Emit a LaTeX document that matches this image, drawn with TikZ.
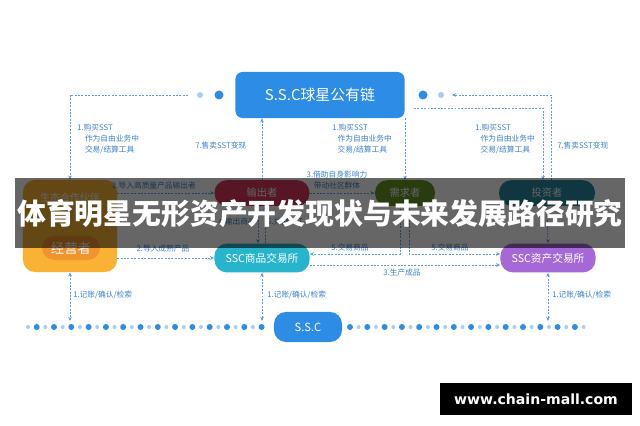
\documentclass[tikz,border=0pt]{standalone}
\usepackage{fontspec}
\setmainfont{Noto Sans CJK SC}
\newfontfamily\wmfont{DejaVu Sans}
\usepackage{tikz}
\usetikzlibrary{arrows.meta,calc}
\definecolor{sscblue}{RGB}{45,140,230}
\definecolor{dotpale}{RGB}{172,205,238}
\definecolor{lineblue}{RGB}{95,158,218}
\definecolor{lblblue}{RGB}{60,130,205}
\definecolor{partneryel}{RGB}{249,178,51}
\definecolor{opergold}{RGB}{240,148,45}
\definecolor{outred}{RGB}{215,55,95}
\definecolor{demgreen}{RGB}{100,150,40}
\definecolor{invteal}{RGB}{40,135,158}
\definecolor{shopteal}{RGB}{40,180,205}
\definecolor{assetpurp}{RGB}{165,105,215}

\begin{document}
\begin{tikzpicture}[x=0.025cm,y=-0.025cm,>={Stealth[length=3pt,width=2.6pt]},
  flow/.style={lineblue,line width=0.5pt,dash pattern=on 1.4pt off 1pt},
  pill/.style={text=white,inner sep=0pt,rounded corners=0.31cm,minimum height=0.64cm,font=\fontsize{7.3}{8}\selectfont},
  lbl/.style={lblblue,inner sep=0pt,anchor=west,align=left,font=\fontsize{5.5}{7.8}\selectfont}]
\fill[white] (0,0) rectangle (640,426);
% chain on top, actors in the middle, ledger at the bottom
\node[pill,fill=sscblue,minimum width=4.225cm,minimum height=1.15cm,rounded corners=5pt,font=\fontsize{10.6}{12}\selectfont] (chain) at (320,95) {S.S.C球星公有链};
\fill[dotpale] (200,95) circle (3);
\fill[sscblue] (219,95) circle (4.5);
\fill[sscblue] (423,95) circle (4.5);
\fill[dotpale] (441,95) circle (3);
\node[fill=partneryel,rounded corners=0.3cm,minimum width=2.35cm,minimum height=2.3cm,inner sep=0pt] (partner) at (70,226) {};
\node[text=white,font=\fontsize{7.1}{8}\selectfont] (partnertxt) at (70,198) {生态合作伙伴};
\node[pill,fill=opergold,minimum width=1.45cm,minimum height=0.6cm,font=\fontsize{9.5}{10}\selectfont] (oper) at (71,248) {经营者};
\node[pill,fill=outred,minimum width=2.375cm] (out) at (262,193) {输出者};
\node[pill,fill=demgreen,minimum width=1.5cm] (demand) at (405,193) {需求者};
\node[pill,fill=invteal,minimum width=2.4cm] (inv) at (547,193) {投资者};
\node[pill,fill=shopteal,minimum width=2.375cm,minimum height=0.72cm,font=\fontsize{7.6}{8}\selectfont] (shop) at (262,258) {SSC商品交易所};
\node[pill,fill=assetpurp,minimum width=2.375cm,minimum height=0.72cm,font=\fontsize{7.6}{8}\selectfont] (asset) at (548,258) {SSC资产交易所};
\node[pill,fill=sscblue,minimum width=1.7cm,minimum height=0.75cm,rounded corners=0.3cm,font=\fontsize{8}{9}\selectfont] (ssc) at (308,327) {S.S.C};
\foreach \i in {0,...,13} {
  \fill[dotpale] (28+17.3*\i,327) circle (2);
  \fill[sscblue] (36.7+17.3*\i,327) circle (3);
  \fill[sscblue] (350+17.3*\i,327) circle (3);
  \fill[dotpale] (358.7+17.3*\i,327) circle (2);
}
% top links
\coordinate (tl) at (188,95);
\coordinate (rb) at (414,108);
\coordinate (rt) at (452,95);
\coordinate (invA) at (543,180);
\coordinate (invB) at (551,180);
\draw[flow,->] (tl) -| (partner.north);
\draw[flow,->] (out.north) -- (out.north |- chain.south);
\draw[flow,->] (demand.north |- chain.south) -- (demand.north);
\draw[flow,->] (rb) -| (invA);
\draw[flow,->] (invB) |- (rt);
\node[lbl] (buyL) at (77,139) {1.购买SST\\\hspace*{1em}作为自由业务中\\\hspace*{1em}交易/结算工具};
\node[lbl] (sellL) at (195,146) {7.售卖SST变现};
\node[lbl] (buyM) at (332,139) {1.购买SST\\\hspace*{0.7em}作为自由业务中\\\hspace*{0.7em}交易/结算工具};
\node[lbl] (buyR) at (475,139) {1.购买SST\\\hspace*{0.7em}作为自由业务中\\\hspace*{0.7em}交易/结算工具};
\node[lbl] (sellR) at (557,146) {7.售卖SST变现};
% middle links
\draw[flow,->] (partner.east |- out.west) -- (out.west);
\draw[flow,->] (partner.east |- shop.west) -- (shop.west);
\draw[flow,->] (out) -- (demand);
\draw[flow,->] ([xshift=-0.1cm]out.south) -- ([xshift=-0.1cm]shop.north);
\draw[flow,->] ([xshift=0.075cm]shop.north) -- ([xshift=0.075cm]out.south);
\draw[flow,->] ([xshift=-0.125cm]demand.south) |- ([yshift=0.1cm]shop.east);
\draw[flow,->] ([xshift=0.1cm]demand.south) |- ([yshift=0.1cm]asset.west);
\draw[flow,->] ([yshift=-0.175cm]shop.east) -- ([yshift=-0.175cm]asset.west);
\draw[flow,->] (inv.south) -- (asset.north);
\node[lbl,anchor=center] (imp1) at (154,186) {2.导入高质量产品输出者};
\node[lbl,anchor=center] (imp2) at (163,249) {2.导入成熟产品};
\node[lbl,anchor=center,align=center] (infl) at (337,180) {3.借助自身影响力\\带动社区群体};
\node[lbl,anchor=east] (goods) at (256,222) {4.输出商品};
\node[lbl] (back) at (267,222) {6.兑换SST};
\node[lbl,anchor=center] (tradeL) at (350,248) {5.交易商品};
\node[lbl,anchor=center] (tradeR) at (450,248) {5.交易商品};
\node[lbl,anchor=center] (make) at (402,273) {3.生产成品};
% bottom links
\coordinate (rail) at (0,321);
\draw[flow,<->] (partner.south) -- (partner.south |- rail);
\draw[flow,<->] (shop.south) -- (shop.south |- rail);
\draw[flow,<->] (asset.south) -- (asset.south |- rail);
\node[lbl] (recL) at (73,295) {1.记账/确认/检索};
\node[lbl] (recM) at (267,295) {1.记账/确认/检索};
\node[lbl] (recR) at (552,295) {1.记账/确认/检索};
% title band and watermark
\fill[black,opacity=0.6] (15,178) rectangle (625,248);
\node[text=white,font=\fontsize{20.5}{24}\selectfont\bfseries] (title) at (320,214) {体育明星无形资产开发现状与未来发展路径研究};
\fill[black] (440,383) rectangle (632,415);
\node[text=white,font=\wmfont\bfseries\fontsize{10}{12}\selectfont] (site) at (536,399) {www.chain-mall.com};
\end{tikzpicture}
\end{document}
